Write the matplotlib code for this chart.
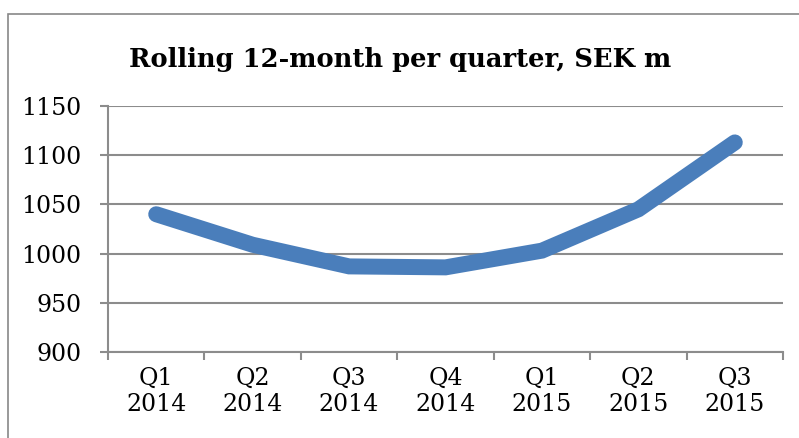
import matplotlib.pyplot as plt
from matplotlib.patches import Rectangle

quarters = ["Q1", "Q2", "Q3", "Q4", "Q1", "Q2", "Q3"]
years = ["2014", "2014", "2014", "2014", "2015", "2015", "2015"]
rolling_12m = [1040, 1009, 987, 986, 1003, 1045, 1113]

W, H = 799, 438
fig = plt.figure(figsize=(W / 100, H / 100), dpi=100)
plt.rcParams['font.family'] = ['DejaVu Serif']

# outer chart border (runs off the right/bottom of the crop)
fig.patches.append(Rectangle((7.5 / W, -0.05), 1.0, 1 - 14 / H + 0.05,
                             transform=fig.transFigure, fill=False,
                             edgecolor="#888888", linewidth=1.2))

ax = fig.add_axes([108 / W, 1 - 352 / H, (783 - 108) / W, (352 - 106) / H])
x = range(len(rolling_12m))
ax.plot(x, rolling_12m, color="#4A7EBB", linewidth=11.5,
        solid_capstyle="round", solid_joinstyle="miter", zorder=3)

ax.set_xlim(-0.5, len(rolling_12m) - 0.5)
ax.set_ylim(900, 1150)
ax.set_yticks(range(900, 1151, 50))
ax.yaxis.grid(True, color="#8c8c8c", linewidth=1.5)
ax.set_axisbelow(True)

ax.set_xticks([i + 0.5 for i in range(-1, len(rolling_12m))], minor=False)
ax.set_xticklabels([])
ax.set_xticks(list(x), minor=True)
ax.set_xticklabels([q + "\n" + y for q, y in zip(quarters, years)],
                   minor=True, fontsize=17, linespacing=1.15)
ax.tick_params(axis="x", which="minor", length=0, pad=11)
ax.tick_params(axis="x", which="major", length=6, color="#8c8c8c", width=1.5)
ax.tick_params(axis="y", length=6, color="#8c8c8c", width=1.5,
               labelsize=17, pad=13)

for s in ["top", "right"]:
    ax.spines[s].set_visible(False)
for s in ["left", "bottom"]:
    ax.spines[s].set_color("#8c8c8c")
    ax.spines[s].set_linewidth(1.5)

fig.text(400 / W, 1 - 60 / H, "Rolling 12-month per quarter, SEK m",
         ha="center", va="center", fontsize=18.5, fontweight="bold")

plt.savefig("out.png", dpi=100)
